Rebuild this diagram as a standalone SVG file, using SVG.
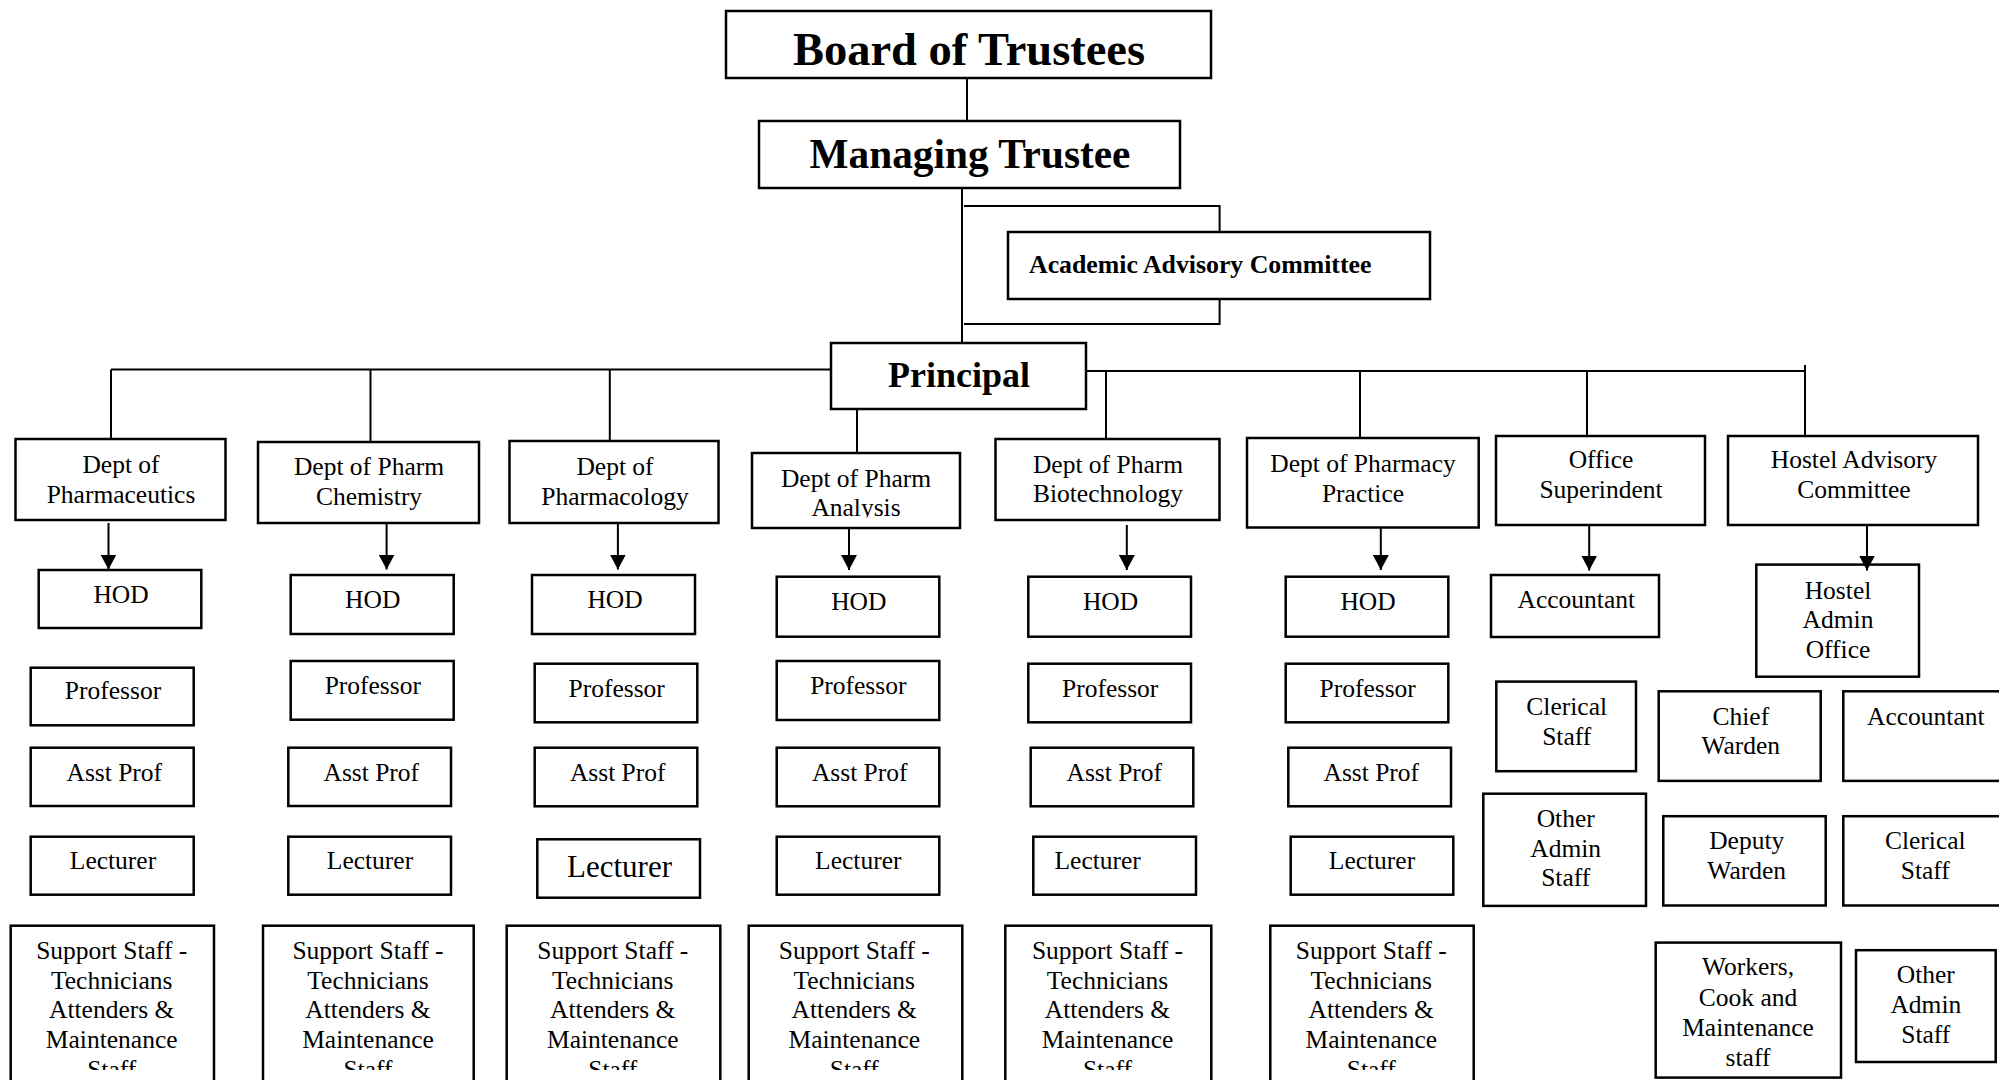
<svg xmlns="http://www.w3.org/2000/svg" width="1999" height="1080" viewBox="0 0 1999 1080">
<style>
.bg{fill:#fff}
.box{fill:none;stroke:#000;stroke-width:2.5}
.ln{fill:none;stroke:#000;stroke-width:2}
.t{font-family:"Liberation Serif","Times New Roman",serif;font-size:25.5px;text-anchor:middle;fill:#000}
.b{font-weight:bold}
</style>
<defs>
<marker id="arr" markerUnits="userSpaceOnUse" markerWidth="15" markerHeight="16" viewBox="0 0 15 16" refX="15" refY="8" orient="auto">
<path d="M0,0 L15,8 L0,16 z" fill="#000"/>
</marker>
<clipPath id="clipAna"><rect x="752" y="453" width="208" height="64.5"/></clipPath>
<clipPath id="clipBot"><rect x="0" y="920" width="1999" height="150"/></clipPath>
</defs>
<rect class="bg" x="0" y="0" width="1999" height="1080"/>

<g id="board"><rect class="box" x="726" y="11" width="485" height="67"/><text class="t b" x="969" y="64.5" style="font-size:46.5px">Board of Trustees</text></g>
<g id="managing"><rect class="box" x="759" y="121" width="421" height="67"/><text class="t b" x="970" y="168" style="font-size:41.3px">Managing Trustee</text></g>
<g id="aac"><rect class="box" x="1008" y="232" width="422" height="67"/><text class="t b" x="1029" y="273" style="font-size:25.8px;text-anchor:start">Academic Advisory Committee</text></g>
<g id="principal"><rect class="box" x="831" y="343" width="255" height="66"/><text class="t b" x="959" y="386.5" style="font-size:36px">Principal</text></g>

<g id="dept1"><rect class="box" x="15.5" y="439" width="210" height="81"/><text class="t"><tspan x="121" y="472.7">Dept of</tspan><tspan x="121" y="502.7">Pharmaceutics</tspan></text></g>
<g id="dept2"><rect class="box" x="258" y="442" width="221" height="81"/><text class="t"><tspan x="369" y="475">Dept of Pharm</tspan><tspan x="369" y="505">Chemistry</tspan></text></g>
<g id="dept3"><rect class="box" x="509.5" y="441" width="209" height="82"/><text class="t"><tspan x="615" y="475">Dept of</tspan><tspan x="615" y="505">Pharmacology</tspan></text></g>
<g id="dept4"><rect class="box" x="752" y="453" width="208" height="75"/><text class="t" clip-path="url(#clipAna)"><tspan x="856" y="486.7">Dept of Pharm</tspan><tspan x="856" y="516">Analysis</tspan></text></g>
<g id="dept5"><rect class="box" x="995.5" y="439" width="224" height="81"/><text class="t"><tspan x="1108" y="472.7">Dept of Pharm</tspan><tspan x="1108" y="502.3">Biotechnology</tspan></text></g>
<g id="dept6"><rect class="box" x="1247" y="438" width="231.7" height="89.5"/><text class="t"><tspan x="1363" y="471.7">Dept of Pharmacy</tspan><tspan x="1363" y="501.7">Practice</tspan></text></g>
<g id="office"><rect class="box" x="1496" y="436" width="209" height="89"/><text class="t"><tspan x="1601" y="468.3">Office</tspan><tspan x="1601" y="498.3">Superindent</tspan></text></g>
<g id="hostel"><rect class="box" x="1728" y="436" width="250" height="89"/><text class="t"><tspan x="1854" y="468.3">Hostel Advisory</tspan><tspan x="1854" y="498.3">Committee</tspan></text></g>

<!-- column 1 -->
<g id="hod1"><rect class="box" x="38.7" y="570" width="162.6" height="58"/><text class="t" x="121" y="603.3">HOD</text></g>
<g id="prof1"><rect class="box" x="30.7" y="667.7" width="163" height="57.6"/><text class="t" x="113" y="699.3">Professor</text></g>
<g id="asst1"><rect class="box" x="30.7" y="747.7" width="163" height="58.3"/><text class="t" x="114.3" y="780.7">Asst Prof</text></g>
<g id="lect1"><rect class="box" x="30.7" y="836.7" width="163" height="58"/><text class="t" x="113" y="869.3">Lecturer</text></g>
<g id="sup1"><rect class="box" x="10.7" y="925.7" width="203.3" height="170"/><text class="t" clip-path="url(#clipBot)"><tspan x="111.7" y="959">Support Staff -</tspan><tspan x="111.7" y="988.7">Technicians</tspan><tspan x="111.7" y="1018.4">Attenders &amp;</tspan><tspan x="111.7" y="1048.1">Maintenance</tspan><tspan x="111.7" y="1077.8">Staff</tspan></text></g>

<!-- column 2 -->
<g id="hod2"><rect class="box" x="290.7" y="575" width="163" height="59"/><text class="t" x="372.7" y="607.7">HOD</text></g>
<g id="prof2"><rect class="box" x="290.7" y="661" width="163" height="58.7"/><text class="t" x="372.8" y="694.3">Professor</text></g>
<g id="asst2"><rect class="box" x="288.3" y="747.7" width="162.7" height="58.3"/><text class="t" x="371.3" y="780.7">Asst Prof</text></g>
<g id="lect2"><rect class="box" x="288.3" y="836.7" width="162.7" height="58"/><text class="t" x="370" y="869.3">Lecturer</text></g>
<g id="sup2"><rect class="box" x="263" y="925.7" width="210.7" height="170"/><text class="t" clip-path="url(#clipBot)"><tspan x="368" y="959">Support Staff -</tspan><tspan x="368" y="988.7">Technicians</tspan><tspan x="368" y="1018.4">Attenders &amp;</tspan><tspan x="368" y="1048.1">Maintenance</tspan><tspan x="368" y="1077.8">Staff</tspan></text></g>

<!-- column 3 -->
<g id="hod3"><rect class="box" x="532" y="575" width="163" height="59"/><text class="t" x="615" y="607.7">HOD</text></g>
<g id="prof3"><rect class="box" x="534.7" y="663.7" width="162.6" height="58.6"/><text class="t" x="616.7" y="696.7">Professor</text></g>
<g id="asst3"><rect class="box" x="534.7" y="747.7" width="162.6" height="58.6"/><text class="t" x="617.7" y="780.7">Asst Prof</text></g>
<g id="lect3"><rect class="box" x="537.3" y="839.3" width="162.7" height="58.4"/><text class="t" x="619.5" y="876.7" style="font-size:31px">Lecturer</text></g>
<g id="sup3"><rect class="box" x="506.7" y="925.7" width="213.6" height="170"/><text class="t" clip-path="url(#clipBot)"><tspan x="612.8" y="959">Support Staff -</tspan><tspan x="612.8" y="988.7">Technicians</tspan><tspan x="612.8" y="1018.4">Attenders &amp;</tspan><tspan x="612.8" y="1048.1">Maintenance</tspan><tspan x="612.8" y="1077.8">Staff</tspan></text></g>

<!-- column 4 -->
<g id="hod4"><rect class="box" x="776.7" y="576.7" width="162.6" height="60"/><text class="t" x="858.8" y="610">HOD</text></g>
<g id="prof4"><rect class="box" x="776.7" y="661" width="162.6" height="59"/><text class="t" x="858.3" y="694.3">Professor</text></g>
<g id="asst4"><rect class="box" x="776.7" y="747.7" width="162.6" height="58.6"/><text class="t" x="859.7" y="780.7">Asst Prof</text></g>
<g id="lect4"><rect class="box" x="776.7" y="836.7" width="162.6" height="58"/><text class="t" x="858.3" y="869.3">Lecturer</text></g>
<g id="sup4"><rect class="box" x="748.7" y="925.7" width="213.6" height="170"/><text class="t" clip-path="url(#clipBot)"><tspan x="854.3" y="959">Support Staff -</tspan><tspan x="854.3" y="988.7">Technicians</tspan><tspan x="854.3" y="1018.4">Attenders &amp;</tspan><tspan x="854.3" y="1048.1">Maintenance</tspan><tspan x="854.3" y="1077.8">Staff</tspan></text></g>

<!-- column 5 -->
<g id="hod5"><rect class="box" x="1028.3" y="576.7" width="162.7" height="60"/><text class="t" x="1110.5" y="610">HOD</text></g>
<g id="prof5"><rect class="box" x="1028.3" y="663.7" width="162.7" height="58.6"/><text class="t" x="1110.2" y="696.7">Professor</text></g>
<g id="asst5"><rect class="box" x="1030.7" y="747.7" width="162.6" height="58.6"/><text class="t" x="1114.3" y="780.7">Asst Prof</text></g>
<g id="lect5"><rect class="box" x="1033.3" y="836.7" width="162.7" height="58"/><text class="t" x="1097.7" y="869.3">Lecturer</text></g>
<g id="sup5"><rect class="box" x="1005.3" y="925.7" width="206" height="170"/><text class="t" clip-path="url(#clipBot)"><tspan x="1107.5" y="959">Support Staff -</tspan><tspan x="1107.5" y="988.7">Technicians</tspan><tspan x="1107.5" y="1018.4">Attenders &amp;</tspan><tspan x="1107.5" y="1048.1">Maintenance</tspan><tspan x="1107.5" y="1077.8">Staff</tspan></text></g>

<!-- column 6 -->
<g id="hod6"><rect class="box" x="1285.7" y="576.7" width="162.6" height="60"/><text class="t" x="1368" y="610">HOD</text></g>
<g id="prof6"><rect class="box" x="1285.7" y="663.7" width="162.6" height="58.6"/><text class="t" x="1367.7" y="696.7">Professor</text></g>
<g id="asst6"><rect class="box" x="1288.3" y="747.7" width="162.7" height="58.6"/><text class="t" x="1371.3" y="780.7">Asst Prof</text></g>
<g id="lect6"><rect class="box" x="1290.7" y="836.7" width="162.6" height="58"/><text class="t" x="1372" y="869.3">Lecturer</text></g>
<g id="sup6"><rect class="box" x="1270.3" y="925.7" width="203.4" height="170"/><text class="t" clip-path="url(#clipBot)"><tspan x="1371.3" y="959">Support Staff -</tspan><tspan x="1371.3" y="988.7">Technicians</tspan><tspan x="1371.3" y="1018.4">Attenders &amp;</tspan><tspan x="1371.3" y="1048.1">Maintenance</tspan><tspan x="1371.3" y="1077.8">Staff</tspan></text></g>

<!-- office column -->
<g id="acc1"><rect class="box" x="1491" y="575" width="168" height="62"/><text class="t" x="1576.3" y="608">Accountant</text></g>
<g id="cler1"><rect class="box" x="1496.3" y="681.6" width="139.7" height="89.6"/><text class="t"><tspan x="1566.7" y="714.8">Clerical</tspan><tspan x="1566.7" y="745">Staff</tspan></text></g>
<g id="other1"><rect class="box" x="1483.3" y="793.7" width="162.7" height="112.2"/><text class="t"><tspan x="1565.7" y="827.3">Other</tspan><tspan x="1565.7" y="856.8">Admin</tspan><tspan x="1565.7" y="886.3">Staff</tspan></text></g>

<!-- hostel column -->
<g id="hao"><rect class="box" x="1756.3" y="564.6" width="162.7" height="112.1"/><text class="t"><tspan x="1838" y="598.8">Hostel</tspan><tspan x="1838" y="628.4">Admin</tspan><tspan x="1838" y="658">Office</tspan></text></g>
<g id="chief"><rect class="box" x="1658.7" y="691.3" width="162" height="89.6"/><text class="t"><tspan x="1740.8" y="724.5">Chief</tspan><tspan x="1740.8" y="754.2">Warden</tspan></text></g>
<g id="acc2"><rect class="box" x="1843.3" y="691.3" width="170" height="89.6"/><text class="t" x="1925.8" y="724.5">Accountant</text></g>
<g id="deputy"><rect class="box" x="1663.3" y="816.2" width="162.4" height="89.3"/><text class="t"><tspan x="1746.7" y="849.1">Deputy</tspan><tspan x="1746.7" y="878.8">Warden</tspan></text></g>
<g id="cler2"><rect class="box" x="1843.3" y="816.2" width="170" height="89.3"/><text class="t"><tspan x="1925.3" y="849.1">Clerical</tspan><tspan x="1925.3" y="878.8">Staff</tspan></text></g>
<g id="workers"><rect class="box" x="1655.7" y="942.6" width="185.3" height="135"/><text class="t"><tspan x="1748" y="975.4">Workers,</tspan><tspan x="1748" y="1005.6">Cook and</tspan><tspan x="1748" y="1035.8">Maintenance</tspan><tspan x="1748" y="1066">staff</tspan></text></g>
<g id="other2"><rect class="box" x="1856" y="950.2" width="139.7" height="111.8"/><text class="t"><tspan x="1925.8" y="983">Other</tspan><tspan x="1925.8" y="1013">Admin</tspan><tspan x="1925.8" y="1043">Staff</tspan></text></g>

<g id="connectors">
<path class="ln" d="M967,78 V121"/>
<path class="ln" d="M962,188 V343"/>
<path class="ln" d="M964,206 H1219.6 V231"/>
<path class="ln" d="M1219.6,299 V324 H964"/>
<path class="ln" d="M111,369.5 H831"/>
<path class="ln" d="M111,369.5 V439"/>
<path class="ln" d="M370.5,369.5 V442"/>
<path class="ln" d="M609.8,369.5 V441"/>
<path class="ln" d="M857,409 V453"/>
<path class="ln" d="M1086,371 H1805"/>
<path class="ln" d="M1106,371 V439"/>
<path class="ln" d="M1360,371 V438"/>
<path class="ln" d="M1587,371 V436"/>
<path class="ln" d="M1805,365 V436"/>
<path class="ln" d="M108.5,523 V569.5" marker-end="url(#arr)"/>
<path class="ln" d="M386.6,523 V569.5" marker-end="url(#arr)"/>
<path class="ln" d="M617.9,523 V569.5" marker-end="url(#arr)"/>
<path class="ln" d="M849,528 V570" marker-end="url(#arr)"/>
<path class="ln" d="M1126.8,525 V570" marker-end="url(#arr)"/>
<path class="ln" d="M1380.8,527.5 V570" marker-end="url(#arr)"/>
<path class="ln" d="M1589.2,525 V570.5" marker-end="url(#arr)"/>
<path class="ln" d="M1867,525 V570.5" marker-end="url(#arr)"/>
</g>
</svg>
